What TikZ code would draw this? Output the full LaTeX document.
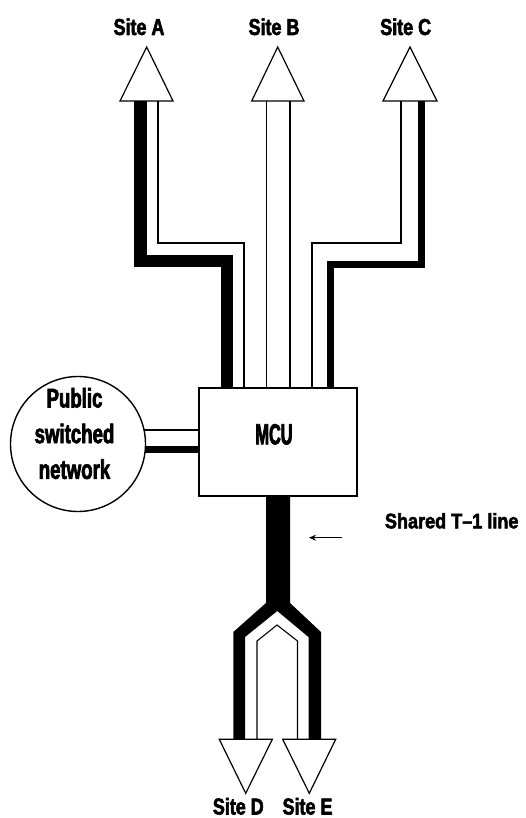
\documentclass[tikz,border=0pt]{standalone}
\usepackage{fontspec}
\setmainfont{Liberation Sans}
\newfontfamily\fsite[FakeStretch=0.78,FakeBold=2.5]{Liberation Sans}
\newfontfamily\fshared[FakeStretch=0.86,FakeBold=2.5]{Liberation Sans}
\newfontfamily\fmcu[FakeStretch=0.56,FakeBold=2.5]{Liberation Sans}
\newfontfamily\fpsn[FakeStretch=0.69,FakeBold=2.5]{Liberation Sans}
\usetikzlibrary{arrows.meta}
\tikzset{
  bk/.style={draw=black, line join=miter, line cap=butt},
  thinw/.style={draw=black, line width=1.1pt, line join=miter},
  tri/.style={draw=black, fill=white, line width=1.2pt, line join=miter},
  sitelbl/.style={anchor=base, inner sep=0pt, font=\fsite\bfseries\fontsize{23}{27}\selectfont},
}
\begin{document}
\begin{tikzpicture}[x=1pt,y=-1pt]
\useasboundingbox (0,0) rectangle (525,818);

% nodes
\node[draw, line width=1.4pt, minimum width=158pt, minimum height=108pt, inner sep=0pt, outer sep=0pt] (mcu) at (278,442) {};
\node[anchor=base, inner sep=0pt, font=\fmcu\bfseries\fontsize{29}{32}\selectfont] (mculbl) at (274,444.3) {MCU};
\node[draw, circle, line width=1.4pt, minimum size=135pt, inner sep=0pt, outer sep=0pt] (psn) at (78,444) {};
\node[align=center, inner sep=0pt, font=\fpsn\bfseries\fontsize{27}{35.7}\selectfont] (psnlbl) at (74.5,433.5) {Public\\switched\\network};

% site labels
\node[sitelbl] (lA) at (139,35) {Site A};
\node[sitelbl] (lB) at (274,35) {Site B};
\node[sitelbl] (lC) at (405.7,35) {Site C};
\node[sitelbl] (lD) at (238.3,814.5) {Site D};
\node[sitelbl] (lE) at (307.5,814.5) {Site E};
\node[anchor=base, inner sep=0pt, font=\fshared\bfseries\fontsize{21}{25}\selectfont] (lT) at (451.7,528.3) {Shared T–1 line};

% pipes from sites A, B, C
\draw[bk, line width=12.5pt] (140.5,101) |- (227,261) -- (227,388);
\draw[thinw] (158,101) |- (244,243) -- (244,388);
\draw[thinw] (266.7,101) -- (266.7,388);
\draw[thinw] (290,101) -- (290,388);
\draw[thinw] (401,101) |- (312,243) -- (312,388);
\draw[bk, line width=7pt] (421.5,101) |- (330.5,264.5) -- (330.5,388);

% public network link
\draw[thinw] (psn.12) -- (psn.12 -| mcu.west);
\draw[bk, line width=7pt] (psn.-5.5) -- (psn.-5.5 -| mcu.west);

% shared T-1 line
\fill[black] (266,496) -- (290,496) -- (290,603) -- (321,632) -- (321,739) -- (308.5,739) -- (308.5,637) -- (277.3,611) -- (245,637) -- (245,739) -- (233.3,739) -- (233.3,632) -- (266,603) -- cycle;
\draw[thinw] (257,739) -- (257,641) -- (277,625) -- (297.5,641) -- (297.5,739);

% triangles
\draw[tri] (120,101) -- (146.7,47) -- (173,101) -- cycle;
\draw[tri] (251.7,101) -- (277.7,47) -- (304,101) -- cycle;
\draw[tri] (383,101) -- (410,47) -- (437,101) -- cycle;
\draw[tri] (219.3,739.3) -- (245.7,793.3) -- (272.3,739.3) -- cycle;
\draw[tri] (282.7,739.3) -- (309.3,793.3) -- (335.7,739.3) -- cycle;

% arrow
\coordinate (arrtail) at (342.3,537.7);
\coordinate (arrhead) at (309,537.7);
\draw[line width=1.5pt, -{Stealth[length=7pt,width=6pt]}] (arrtail) -- (arrhead);
\end{tikzpicture}
\end{document}
